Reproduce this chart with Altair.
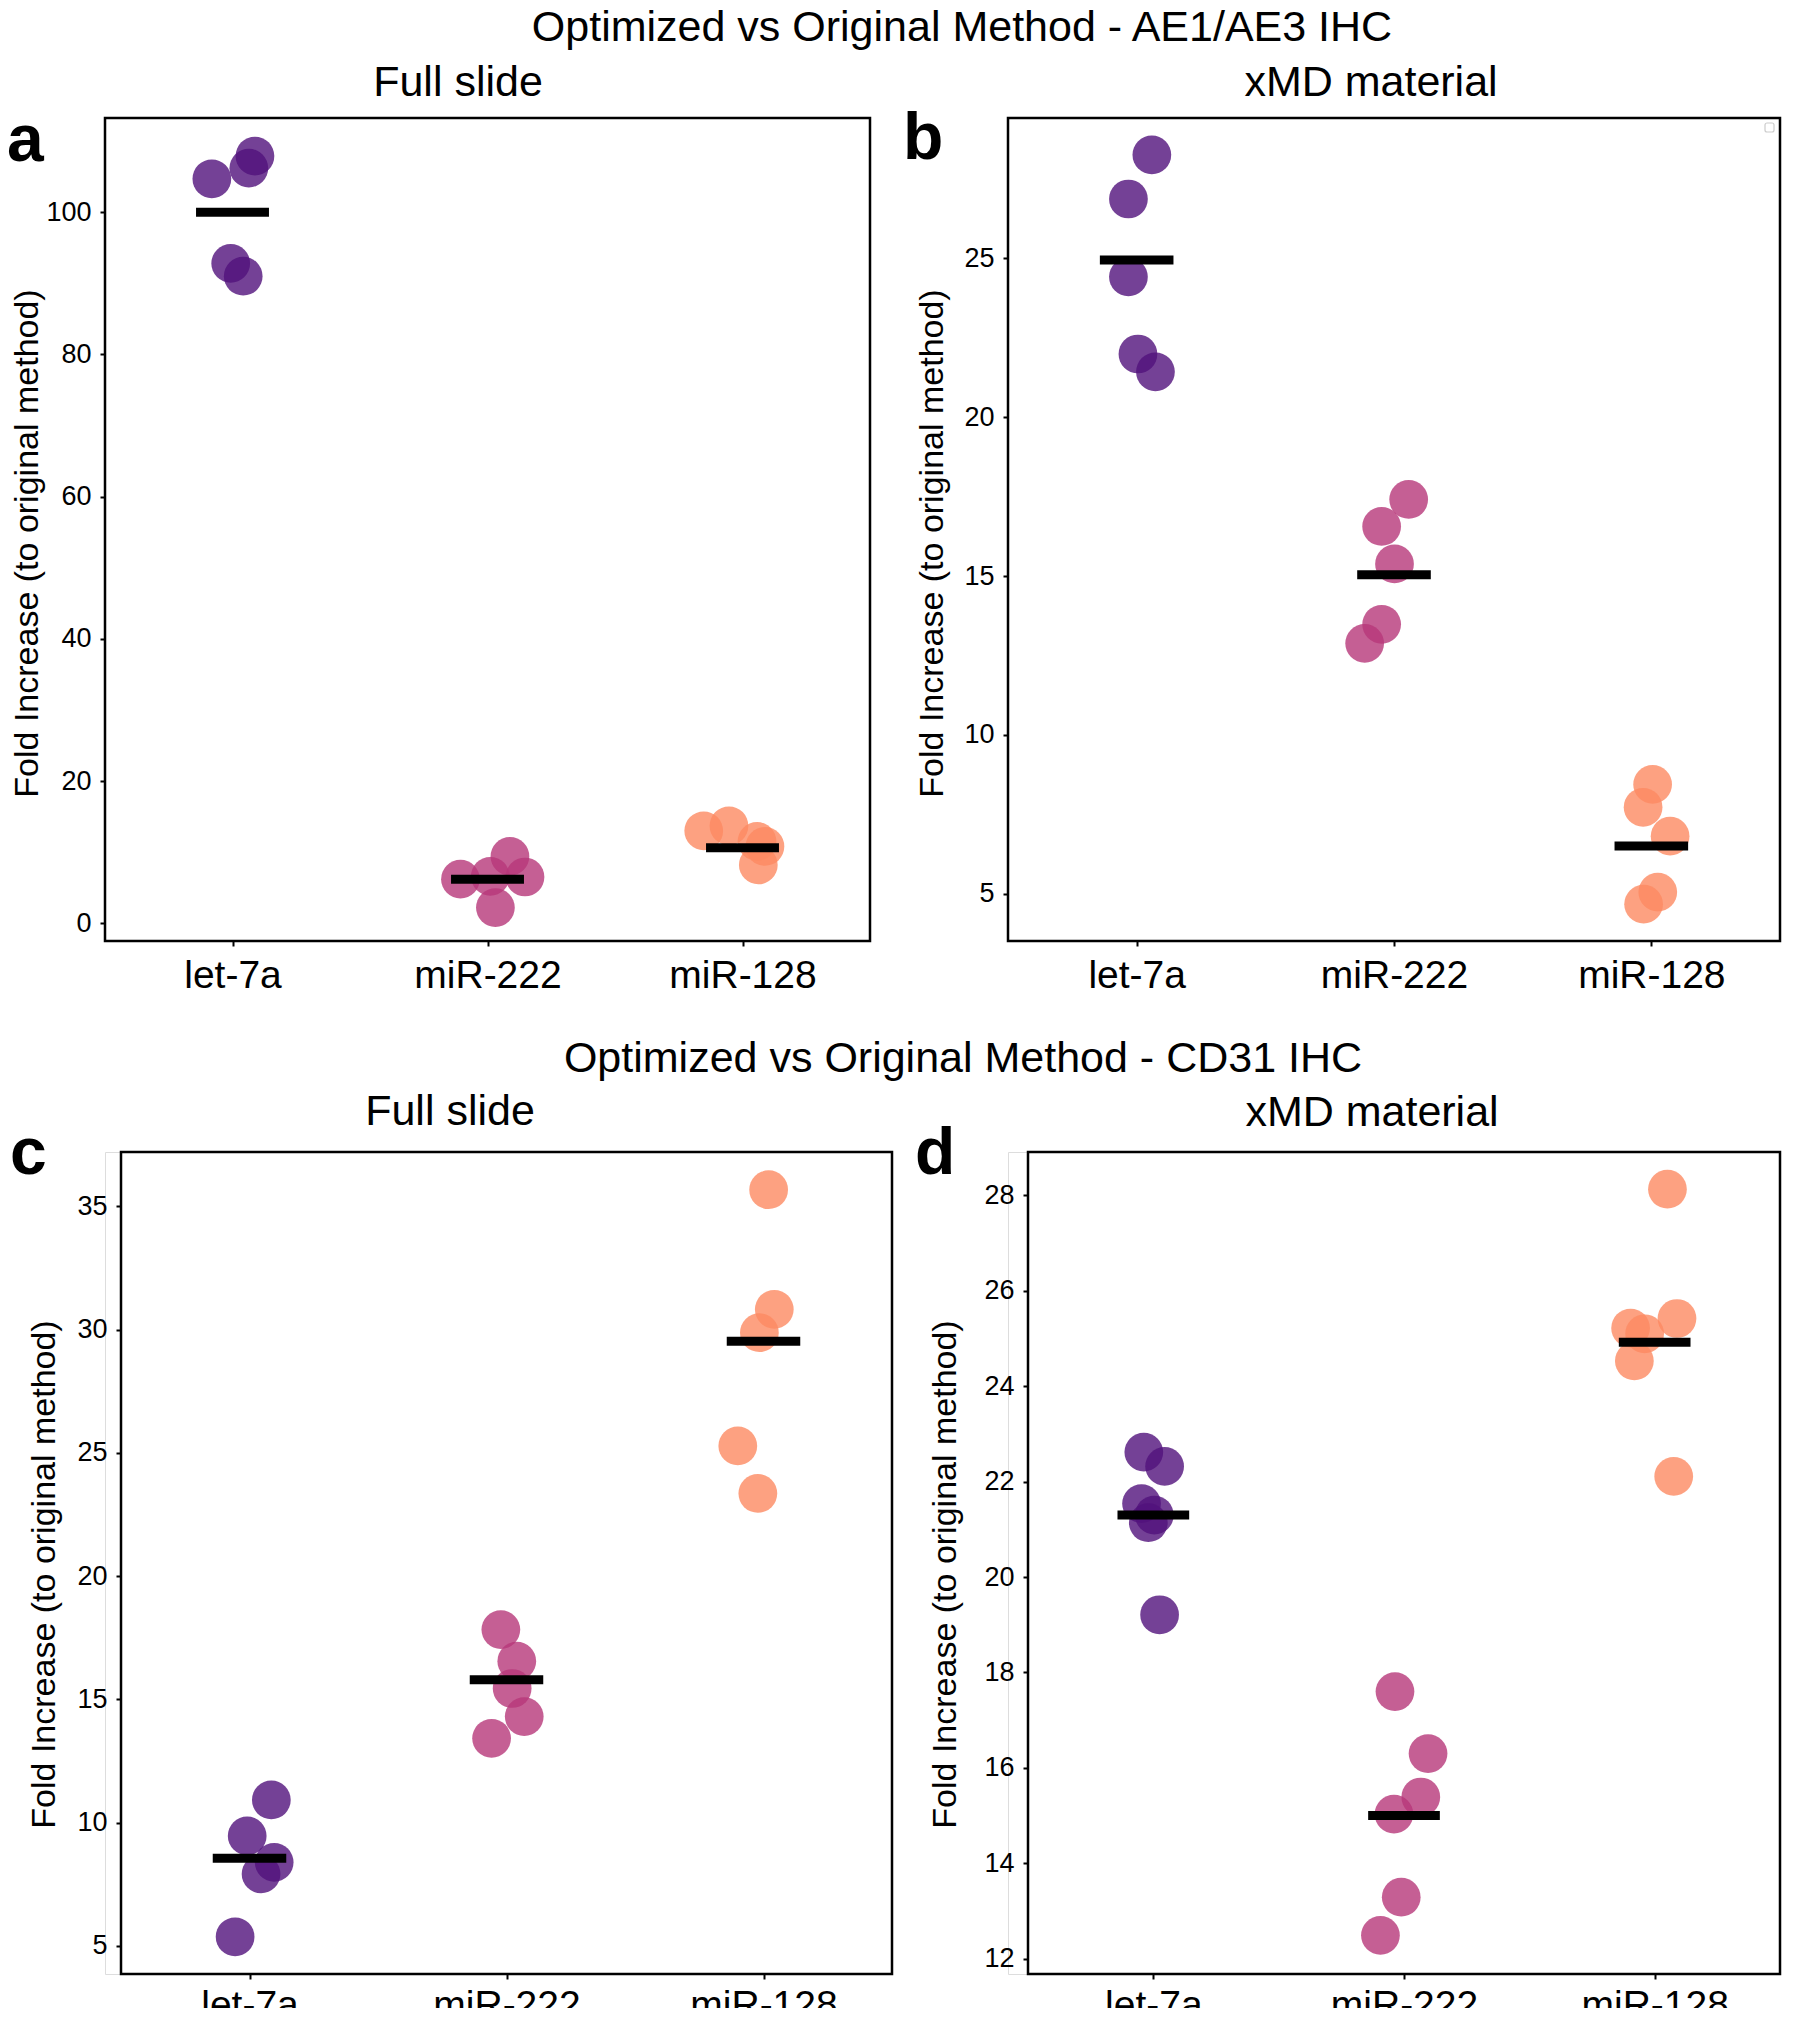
import json
import altair as alt
import pandas as pd

FONT = "Liberation Sans"
CATEGORIES = ["let-7a", "miR-222", "miR-128"]
PALETTE = ["#51127c", "#b73779", "#fc8961"]
Y_TITLE = "Fold Increase (to original method)"

# ---- Panel a : AE1/AE3 IHC, Full slide
A_LET7A = [104.7, 107.9, 106.2, 92.8, 91.0]
A_MIR222 = [6.2, 9.4, 6.5, 2.2, 6.6]
A_MIR128 = [13.0, 13.7, 11.5, 10.8, 8.2]
A_JIT_LET7A = [-0.081, 0.088, 0.064, -0.007, 0.042]
A_JIT_MIR222 = [-0.106, 0.088, 0.147, 0.031, 0.011]
A_JIT_MIR128 = [-0.152, -0.053, 0.057, 0.088, 0.062]
A_MEANS = [100.0, 6.2, 10.6]
A_TICKS = [0, 20, 40, 60, 80, 100]

# ---- Panel b : AE1/AE3 IHC, xMD material
B_LET7A = [28.26, 26.87, 24.42, 21.99, 21.43]
B_MIR222 = [17.41, 16.56, 15.38, 13.48, 12.88]
B_MIR128 = [8.44, 7.72, 6.81, 5.05, 4.67]
B_JIT_LET7A = [0.059, -0.032, -0.032, 0.005, 0.073]
B_JIT_MIR222 = [0.057, -0.048, 0.002, -0.048, -0.114]
B_JIT_MIR128 = [0.005, -0.032, 0.073, 0.025, -0.030]
B_MEANS = [24.95, 15.04, 6.50]
B_TICKS = [5, 10, 15, 20, 25]

# ---- Panel c : CD31 IHC, Full slide
C_LET7A = [10.92, 9.46, 8.39, 7.92, 5.37]
C_MIR222 = [17.83, 16.55, 15.44, 14.30, 13.42]
C_MIR128 = [35.67, 30.82, 29.87, 25.28, 23.35]
C_JIT_LET7A = [0.085, -0.009, 0.096, 0.045, -0.056]
C_JIT_MIR222 = [-0.022, 0.040, 0.022, 0.069, -0.058]
C_JIT_MIR128 = [0.020, 0.042, -0.016, -0.100, -0.022]
C_MEANS = [8.55, 15.79, 29.52]
C_TICKS = [5, 10, 15, 20, 25, 30, 35]

# ---- Panel d : CD31 IHC, xMD material
D_LET7A = [22.62, 22.32, 21.54, 21.30, 21.14, 19.21]
D_MIR222 = [17.60, 16.30, 15.39, 15.03, 13.29, 12.49]
D_MIR128 = [28.13, 25.42, 25.22, 25.10, 24.53, 22.11]
D_JIT_LET7A = [-0.038, 0.045, -0.047, 0.004, -0.020, 0.025]
D_JIT_MIR222 = [-0.036, 0.096, 0.067, -0.040, -0.011, -0.094]
D_JIT_MIR128 = [0.051, 0.089, -0.096, -0.040, -0.081, 0.076]
D_MEANS = [21.30, 15.00, 24.92]
D_TICKS = [12, 14, 16, 18, 20, 22, 24, 26, 28]

SUPTITLE_1 = "Optimized vs Original Method - AE1/AE3 IHC"
SUPTITLE_2 = "Optimized vs Original Method - CD31 IHC"
TITLE_FULL = "Full slide"
TITLE_XMD = "xMD material"

LABEL_EXPR = json.dumps(CATEGORIES) + "[datum.value]"


def text_layer(txt, x, y, size, weight="normal", align="center"):
    return alt.Chart(alt.Data(values=[{}])).mark_text(
        text=txt, font=FONT, fontSize=size, fontWeight=weight, align=align,
        baseline="alphabetic", color="black",
    ).encode(x=alt.value(x), y=alt.value(y))


def panel(values, jitters, means, ydomain, yticks, width, height, x0,
          title_x, title_y, texts, legend_box=False, xlabel_pad=10):
    rows = []
    for i, (vals, jits) in enumerate(zip(values, jitters)):
        for v, j in zip(vals, jits):
            rows.append({"cat": CATEGORIES[i], "idx": i, "value": v, "jitter": j})
    df = pd.DataFrame(rows)
    mdf = pd.DataFrame({"cat": CATEGORIES, "idx": [0, 1, 2], "mean": means})

    xscale = alt.Scale(domain=[-0.5, 2.5], range=[x0, width], nice=False, zero=False)
    yscale = alt.Scale(domain=ydomain, nice=False, zero=False)
    xaxis = alt.Axis(values=[0, 1, 2], labelExpr=LABEL_EXPR, title=None, grid=False,
                     domain=False, ticks=True, tickSize=5, tickWidth=2, tickColor="black",
                     labelFont=FONT, labelFontSize=39, labelColor="black",
                     labelPadding=xlabel_pad, labelOverlap=False, labelFlush=False)
    yaxis_kw = dict(values=yticks, title=Y_TITLE, grid=False, domain=False, ticks=True,
                    tickSize=5, tickWidth=2, tickColor="black", labelFont=FONT,
                    labelFontSize=27, labelColor="black", labelPadding=9,
                    labelOverlap=False, labelFlush=False,
                    titleFont=FONT, titleFontSize=34, titleFontWeight="normal",
                    titleColor="black", titleAngle=270, titleBaseline="middle",
                    titleAlign="center", titleX=title_x, titleY=title_y)
    if x0:
        yaxis_kw["offset"] = -x0
    yaxis = alt.Axis(**yaxis_kw)

    points = alt.Chart(df).transform_calculate(
        xpos="datum.idx + datum.jitter"
    ).mark_circle(size=1500, opacity=0.8).encode(
        x=alt.X("xpos:Q", scale=xscale, axis=xaxis),
        y=alt.Y("value:Q", scale=yscale, axis=yaxis),
        color=alt.Color("cat:N", scale=alt.Scale(domain=CATEGORIES, range=PALETTE), legend=None),
    )
    rules = alt.Chart(mdf).transform_calculate(
        x1="datum.idx - 0.143", x2="datum.idx + 0.143"
    ).mark_rule(color="black", strokeWidth=9).encode(
        x=alt.X("x1:Q", scale=xscale, axis=xaxis),
        x2="x2:Q",
        y=alt.Y("mean:Q", scale=yscale, axis=yaxis),
    )
    frame = alt.Chart(alt.Data(values=[{}])).mark_rect(
        filled=False, stroke="black", strokeWidth=2.5
    ).encode(x=alt.value(x0), x2=alt.value(width), y=alt.value(0), y2=alt.value(height))

    layers = [points, rules, frame]
    if legend_box:
        # empty legend frame left in the corner of the original figure
        layers.append(alt.Chart(alt.Data(values=[{}])).mark_rect(
            filled=False, stroke="#cccccc", strokeWidth=1.2, cornerRadius=2
        ).encode(x=alt.value(width - 15), x2=alt.value(width - 6),
                 y=alt.value(5), y2=alt.value(14)))
    layers += [text_layer(*t) for t in texts]
    return alt.layer(*layers).properties(width=width, height=height)


pa = panel([A_LET7A, A_MIR222, A_MIR128], [A_JIT_LET7A, A_JIT_MIR222, A_JIT_MIR128],
           A_MEANS, [-2.5, 113.25], A_TICKS, 765, 823, 0, -78, 425,
           [(SUPTITLE_1, 857, -77, 43), (TITLE_FULL, 353, -22, 43),
            ("a", -98, 43, 66, "bold", "left")])
pb = panel([B_LET7A, B_MIR222, B_MIR128], [B_JIT_LET7A, B_JIT_MIR222, B_JIT_MIR128],
           B_MEANS, [3.51, 29.42], B_TICKS, 772, 823, 0, -75.5, 425,
           [(TITLE_XMD, 363, -22, 43), ("b", -105, 41, 66, "bold", "left")],
           legend_box=True)
pc = panel([C_LET7A, C_MIR222, C_MIR128], [C_JIT_LET7A, C_JIT_MIR222, C_JIT_MIR128],
           C_MEANS, [3.86, 37.2], C_TICKS, 787, 822, 16, -76.5, 422,
           [(SUPTITLE_2, 858, -80, 43), (TITLE_FULL, 345, -27, 43),
            ("c", -95, 22, 66, "bold", "left")], xlabel_pad=7)
pd_ = panel([D_LET7A, D_MIR222, D_MIR128], [D_JIT_LET7A, D_JIT_MIR222, D_JIT_MIR128],
            D_MEANS, [11.68, 28.91], D_TICKS, 772, 822, 20, -82.5, 422,
            [(TITLE_XMD, 364, -26, 43), ("d", -93, 22, 66, "bold", "left")], xlabel_pad=7)

chart = alt.concat(
    pa, pb, pc, pd_, columns=2, spacing={"row": 211, "column": 116},
    bounds="flush",
).properties(
    padding={"left": -2, "top": -2, "right": 5, "bottom": -18}
).configure_view(strokeOpacity=0).configure(font=FONT, background="white")

chart.save("out.html", embed_options={"renderer": "svg", "actions": False})
